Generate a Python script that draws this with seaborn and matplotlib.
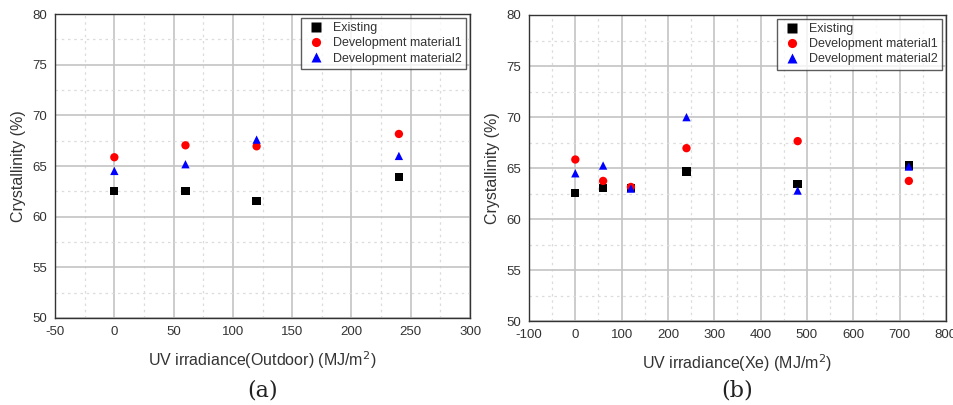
import numpy as np
import pandas as pd
import matplotlib
matplotlib.use("Agg")
import matplotlib.pyplot as plt
from matplotlib.ticker import MultipleLocator
import seaborn as sns

# Panel (a): outdoor exposure
outdoor_x = [0, 60, 120, 240]
outdoor_existing = [62.55, 62.55, 61.55, 63.95]
outdoor_dev1 = [65.87, 67.05, 66.95, 68.17]
outdoor_dev2 = [64.52, 65.18, 67.61, 66.0]

# Panel (b): xenon exposure
xe_x = [0, 60, 120, 240, 480, 720]
xe_existing = [62.56, 63.02, 63.05, 64.66, 63.41, 65.25]
xe_dev1 = [65.84, 63.74, 63.15, 66.95, 67.64, 63.74]
xe_dev2 = [64.49, 65.25, 62.99, 69.99, 62.8, 65.15]

series_names = ["Existing", "Development material1", "Development material2"]
series_colors = ["#000000", "#ff0000", "#0000ff"]
series_markers = ["s", "o", "^"]


def long_frame(x, existing, dev1, dev2):
    rows = []
    for name, vals in zip(series_names, [existing, dev1, dev2]):
        for xi, yi in zip(x, vals):
            rows.append({"x": xi, "y": yi, "series": name})
    return pd.DataFrame(rows)


sns.set_style("white")
plt.rcParams["font.family"] = ["Liberation Sans", "DejaVu Sans"]
plt.rcParams["axes.unicode_minus"] = False

fig = plt.figure(figsize=(9.54, 4.05), dpi=100)
ax_a = fig.add_axes([0.0577, 0.215, 0.435, 0.750])
ax_b = fig.add_axes([0.5545, 0.207, 0.437, 0.756])

panels = [
    (ax_a, long_frame(outdoor_x, outdoor_existing, outdoor_dev1, outdoor_dev2),
     (-50, 300), 50, 25, "UV irradiance(Outdoor) (MJ/m$^2$)", "(a)"),
    (ax_b, long_frame(xe_x, xe_existing, xe_dev1, xe_dev2),
     (-100, 800), 100, 50, "UV irradiance(Xe) (MJ/m$^2$)", "(b)"),
]

for ax, df, xlim, xmaj, xmin, xlabel, tag in panels:
    sns.scatterplot(
        data=df, x="x", y="y", hue="series", style="series",
        hue_order=series_names, style_order=series_names,
        palette=dict(zip(series_names, series_colors)),
        markers=dict(zip(series_names, series_markers)),
        s=36, edgecolor="none", ax=ax, zorder=3,
    )
    ax.set_xlim(*xlim)
    ax.set_ylim(50, 80)
    ax.xaxis.set_major_locator(MultipleLocator(xmaj))
    ax.xaxis.set_minor_locator(MultipleLocator(xmin))
    ax.yaxis.set_major_locator(MultipleLocator(5))
    ax.yaxis.set_minor_locator(MultipleLocator(2.5))
    ax.grid(which="major", color="#c4c4c4", linewidth=1.2, linestyle="-")
    ax.grid(which="minor", color="#dcdcdc", linewidth=0.9, linestyle=(0, (2, 3)))
    ax.set_axisbelow(True)
    for sp in ax.spines.values():
        sp.set_color("#333333")
        sp.set_linewidth(1.0)
    ax.tick_params(which="major", direction="out", length=4, width=1,
                   color="#333333", labelsize=9.5, labelcolor="#333333", pad=2)
    ax.tick_params(which="minor", direction="out", length=2, width=0.8,
                   color="#333333")
    ax.set_xlabel(xlabel, fontsize=11.5, color="#333333", labelpad=8)
    ax.set_ylabel("Crystallinity (%)", fontsize=11.5, color="#333333", labelpad=4)
    leg = ax.legend(loc="upper right", fontsize=9, frameon=True, fancybox=False,
                    edgecolor="#333333", borderaxespad=0.3, handletextpad=0.6,
                    labelspacing=0.25, borderpad=0.35, markerscale=1.1,
                    handlelength=1.6)
    leg.get_frame().set_linewidth(1.0)
    for t in leg.get_texts():
        t.set_color("#333333")
    pos = ax.get_position()
    fig.text((pos.x0 + pos.x1) / 2, 1 - 390 / 405, tag, ha="center", va="center",
             fontsize=16, family=["DejaVu Serif"], color="#222222")

fig.savefig("out.png", dpi=100)
